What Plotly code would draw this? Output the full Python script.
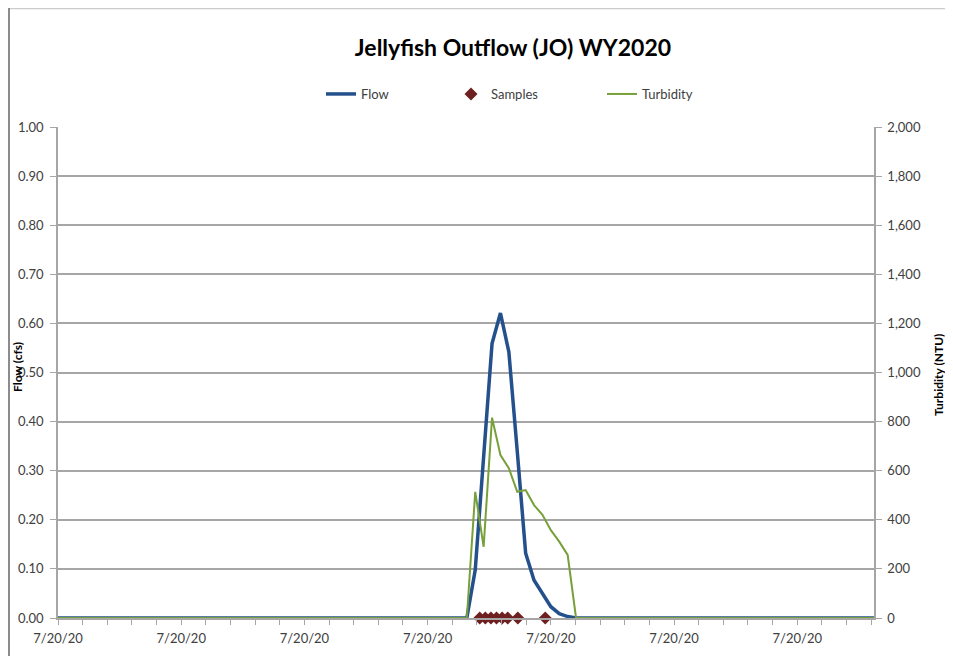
import plotly.graph_objects as go

# storm event, 15-minute readings (zero before and after)
flow_time = [
    "2020-07-20 00:00", "2020-07-20 12:10", "2020-07-20 12:25", "2020-07-20 12:40",
    "2020-07-20 12:55", "2020-07-20 13:10", "2020-07-20 13:25", "2020-07-20 13:40",
    "2020-07-20 13:55", "2020-07-20 14:10", "2020-07-20 14:25", "2020-07-20 14:40",
    "2020-07-20 14:55", "2020-07-20 15:10", "2020-07-20 15:25", "2020-07-21 00:17",
]
flow_cfs = [0, 0, 0.098, 0.32, 0.559, 0.621, 0.542, 0.34, 0.132, 0.077,
            0.05, 0.023, 0.009, 0.003, 0, 0]
turbidity_ntu = [0, 0, 514, 290, 816, 664, 610, 514, 521, 460,
                 420, 358, 311, 257, 0, 0]

sample_time = [
    "2020-07-20 12:33", "2020-07-20 12:43", "2020-07-20 12:53", "2020-07-20 13:03",
    "2020-07-20 13:13", "2020-07-20 13:23", "2020-07-20 13:41", "2020-07-20 14:30",
]
sample_flow = [0, 0, 0, 0, 0, 0, 0, 0]

MIN = 60 * 1000
font = "Lato, Arial, sans-serif"
tick_color = "#404040"
grid_color = "#a6a6a6"

# page body adds an 8px margin, so the figure is a bit smaller than the window
W, H = 945, 648
L, R, T, B = 50, 79, 119, 38
PW, PH = W - L - R, H - T - B

fig = go.Figure()

fig.add_trace(go.Scatter(
    x=flow_time, y=flow_cfs, name="Flow", mode="lines",
    line=dict(color="#24508c", width=3.5), legend="legend",
))
fig.add_trace(go.Scatter(
    x=sample_time, y=sample_flow, name="Samples", mode="markers",
    marker=dict(symbol="diamond", size=10, color="#6e1f1f"),
    cliponaxis=False, legend="legend2",
))
fig.add_trace(go.Scatter(
    x=flow_time, y=turbidity_ntu, name="Turbidity", mode="lines",
    line=dict(color="#77a03a", width=2), yaxis="y2", legend="legend3",
))


def legend_at(px):
    # one legend box per entry so each can sit where the original has it
    return dict(x=px / W, xref="container", xanchor="left",
                y=1 - 86 / H, yref="container", yanchor="middle",
                font=dict(size=13, color="#404040"), bgcolor="rgba(0,0,0,0)")


fig.update_layout(
    width=W, height=H,
    margin=dict(l=L, r=R, t=T, b=B, autoexpand=False),
    paper_bgcolor="white", plot_bgcolor="white",
    font=dict(family=font, size=13, color=tick_color),
    title=dict(text="<b>Jellyfish Outflow (JO) WY2020</b>",
               x=505 / W, xanchor="center", y=1 - 40 / H, yanchor="middle",
               font=dict(family=font, size=23, color="black")),
    showlegend=True,
    legend=legend_at(313),
    legend2=legend_at(443),
    legend3=legend_at(594),
    xaxis=dict(
        type="date", automargin=False,
        range=["2020-07-20 00:00", "2020-07-21 00:17"],
        tick0="2020-07-20 00:00", dtick=220 * MIN,
        tickformat="%-m/%d/%y", ticklabelstandoff=3,
        showgrid=False, zeroline=False,
        showline=True, linecolor=grid_color, linewidth=1.5,
        ticks="outside", ticklen=5, tickcolor=grid_color,
        minor=dict(dtick=44 * MIN, tick0="2020-07-20 00:00", ticks="outside",
                   ticklen=5, tickcolor=grid_color, showgrid=False),
        tickfont=dict(size=13, color=tick_color),
    ),
    yaxis=dict(
        automargin=False,
        range=[0, 1.0], dtick=0.1, tickformat=".2f", ticklabelstandoff=4,
        showgrid=True, gridcolor=grid_color, gridwidth=1.5,
        zeroline=False, showline=True, linecolor=grid_color, linewidth=1.5,
        ticks="outside", ticklen=6, tickcolor=grid_color,
        tickfont=dict(size=13, color=tick_color),
    ),
    yaxis2=dict(
        automargin=False,
        overlaying="y", side="right",
        range=[0, 2000], dtick=200, tickformat=",d", ticklabelstandoff=3,
        showgrid=False, zeroline=False,
        showline=True, linecolor=grid_color, linewidth=1.5,
        ticks="outside", ticklen=6, tickcolor=grid_color,
        tickfont=dict(size=13, color=tick_color),
    ),
)

# axis titles, placed by hand like the original
fig.add_annotation(text="<b>Flow (cfs)</b>", textangle=-90, showarrow=False,
                   xref="paper", yref="paper", xanchor="center", yanchor="middle",
                   x=(9 - L) / PW, y=(T + PH - 359) / PH,
                   font=dict(size=12, color="black"))
fig.add_annotation(text="<b>Turbidity (NTU)</b>", textangle=-90, showarrow=False,
                   xref="paper", yref="paper", xanchor="center", yanchor="middle",
                   x=(930 - L) / PW, y=(T + PH - 367) / PH,
                   font=dict(size=12, color="black"))

# outer chart border (top and left edges visible in the crop)
fig.add_shape(type="line", xref="paper", yref="paper",
              x0=(1 - L) / PW, x1=1.2, y0=(T + PH - 0.5) / PH, y1=(T + PH - 0.5) / PH,
              line=dict(color="#cccccc", width=1.5))
fig.add_shape(type="line", xref="paper", yref="paper",
              x0=(1 - L) / PW, x1=(1 - L) / PW, y0=(T + PH) / PH, y1=-0.2,
              line=dict(color="#8c8c8c", width=2))

fig.write_html("out.html")
